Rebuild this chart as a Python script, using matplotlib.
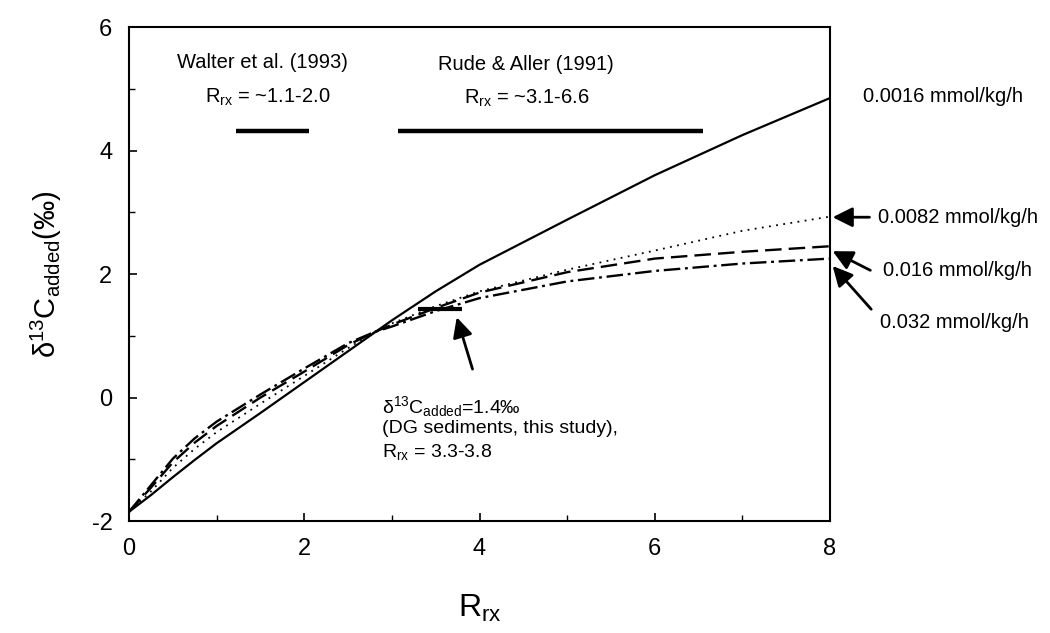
import matplotlib
matplotlib.use("Agg")
import matplotlib.pyplot as plt
from matplotlib.ticker import MultipleLocator

plt.rcParams['font.family'] = ['Liberation Sans', 'DejaVu Sans']
plt.rcParams['mathtext.fontset'] = 'custom'
plt.rcParams['mathtext.rm'] = 'Liberation Sans'
plt.rcParams['mathtext.it'] = 'Liberation Sans'
plt.rcParams['mathtext.bf'] = 'Liberation Sans:bold'
plt.rcParams['mathtext.default'] = 'regular'
plt.rcParams['axes.unicode_minus'] = False

# ---- data ----
r_rx = [0, 0.25, 0.5, 0.75, 1, 1.5, 2, 2.5, 2.8, 3, 3.5, 4, 5, 6, 7, 8]
d13c_0016 = [-1.85, -1.58, -1.29, -1.01, -0.74, -0.25, 0.25, 0.75, 1.05, 1.25, 1.72, 2.15, 2.88, 3.6, 4.25, 4.85]
d13c_0082 = [-1.85, -1.52, -1.14, -0.83, -0.56, -0.10, 0.35, 0.80, 1.06, 1.20, 1.48, 1.72, 2.07, 2.38, 2.70, 2.93]
d13c_016 = [-1.85, -1.46, -1.05, -0.73, -0.46, 0.00, 0.42, 0.85, 1.06, 1.18, 1.45, 1.70, 2.03, 2.25, 2.36, 2.45]
d13c_032 = [-1.85, -1.42, -0.99, -0.66, -0.39, 0.05, 0.47, 0.88, 1.06, 1.15, 1.40, 1.61, 1.88, 2.05, 2.17, 2.25]

series_labels = ["0.0016 mmol/kg/h", "0.0082 mmol/kg/h", "0.016 mmol/kg/h", "0.032 mmol/kg/h"]

walter_range = [1.22, 2.05]
rude_range = [3.07, 6.55]
range_bar_y = 4.32
dg_range = [3.3, 3.8]
dg_value = 1.43

x_ticks = [0, 2, 4, 6, 8]
y_ticks = [-2, 0, 2, 4, 6]

# ---- figure ----
fig = plt.figure(figsize=(10.5, 6.33), dpi=100)
ax = fig.add_axes([0.1229, 0.1769, 0.6676, 0.7804])

ax.plot(r_rx, d13c_0016, color='black', lw=1.6, linestyle='-')
ax.plot(r_rx, d13c_0082, color='black', lw=1.3, linestyle=(0, (1, 3)))
ax.plot(r_rx, d13c_016, color='black', lw=1.7, linestyle=(0, (7, 3)))
ax.plot(r_rx, d13c_032, color='black', lw=1.7, linestyle=(0, (7, 2, 1.2, 2)))

# range bars
ax.plot(walter_range, [range_bar_y, range_bar_y], color='black', lw=3.2, solid_capstyle='butt')
ax.plot(rude_range, [range_bar_y, range_bar_y], color='black', lw=3.2, solid_capstyle='butt')
ax.plot(dg_range, [dg_value, dg_value], color='black', lw=3.0, solid_capstyle='butt')

ax.set_xlim(0, 8)
ax.set_ylim(-2, 6)
ax.set_xticks(x_ticks)
ax.set_yticks(y_ticks)
ax.xaxis.set_minor_locator(MultipleLocator(1))
ax.yaxis.set_minor_locator(MultipleLocator(1))
ax.tick_params(which='major', direction='in', length=6, width=1.2, labelsize=17, pad=12)
ax.tick_params(which='minor', direction='in', length=4, width=1.0)
for s in ax.spines.values():
    s.set_linewidth(1.5)

ax.set_xlabel(r"$R_{rx}$", fontsize=23, labelpad=24)
ax.set_ylabel(r"$\delta^{13}C_{added}$(‰)", fontsize=21, labelpad=20)

tfs = 14.5
ax.text(1.52, 5.42, "Walter et al. (1993)", ha='center', va='center', fontsize=tfs)
ax.text(1.58, 4.86, r"$R_{rx}$ = ~1.1-2.0", ha='center', va='center', fontsize=tfs)
ax.text(4.53, 5.40, "Rude & Aller (1991)", ha='center', va='center', fontsize=tfs)
ax.text(4.54, 4.84, r"$R_{rx}$ = ~3.1-6.6", ha='center', va='center', fontsize=tfs)

ax.text(2.89, -0.15, r"$\delta^{13}C_{added}$=1.4‰", ha='left', va='center', fontsize=14)
ax.text(2.89, -0.50, "(DG sediments, this study),", ha='left', va='center', fontsize=14)
ax.text(2.89, -0.88, r"$R_{rx}$ = 3.3-3.8", ha='left', va='center', fontsize=14)

# right labels
ax.text(8.38, 4.87, series_labels[0], ha='left', va='center', fontsize=tfs, clip_on=False)
ax.text(8.55, 2.92, series_labels[1], ha='left', va='center', fontsize=tfs, clip_on=False)
ax.text(8.61, 2.06, series_labels[2], ha='left', va='center', fontsize=tfs, clip_on=False)
ax.text(8.57, 1.21, series_labels[3], ha='left', va='center', fontsize=tfs, clip_on=False)

ap = dict(arrowstyle='-|>,head_length=0.6,head_width=0.3', color='black', lw=2,
          mutation_scale=20, shrinkA=0, shrinkB=0)
ax.annotate("", xy=(8.03, 2.92), xytext=(8.45, 2.92), arrowprops=ap, annotation_clip=False)
ax.annotate("", xy=(8.03, 2.37), xytext=(8.46, 2.06), arrowprops=ap, annotation_clip=False)
ax.annotate("", xy=(8.03, 2.13), xytext=(8.47, 1.43), arrowprops=ap, annotation_clip=False)
ax.annotate("", xy=(3.74, 1.30), xytext=(3.92, 0.46), arrowprops=ap, annotation_clip=False)

fig.savefig("out.png", dpi=100)
